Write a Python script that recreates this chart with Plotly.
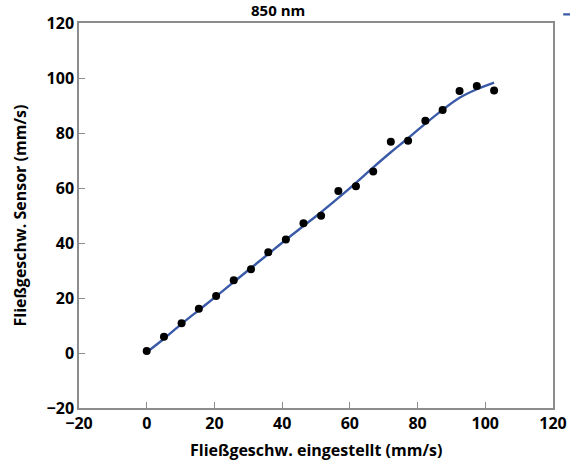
import plotly.graph_objects as go

# measured points (set flow vs. sensor flow, mm/s)
x_set = [0, 5.1, 10.3, 15.4, 20.5, 25.7, 30.8, 35.9, 41.1, 46.3, 51.5,
         56.6, 61.8, 66.9, 72.1, 77.2, 82.3, 87.4, 92.4, 97.5, 102.6]
y_sensor = [0.7, 5.9, 10.8, 16.1, 20.7, 26.5, 30.5, 36.6, 41.3, 47.2, 49.9,
            58.9, 60.6, 66.0, 76.8, 77.2, 84.5, 88.4, 95.3, 97.1, 95.5]
y_err = [0.8] * len(x_set)

# fitted curve (blue)
x_fit = [0, 5.1, 10.3, 15.4, 20.5, 25.7, 30.8, 35.9, 41.1, 46.3, 51.5,
         56.6, 61.8, 66.9, 72.1, 77.2, 82.3, 87.4, 92.4, 97.5, 102.6]
y_fit = [0.3, 5.2, 10.6, 15.6, 20.6, 25.8, 30.9, 36.0, 41.2, 46.2, 51.2,
         56.4, 61.9, 67.5, 73.0, 78.1, 83.4, 88.4, 92.8, 95.9, 98.3]

x_ticks = [-20, 0, 20, 40, 60, 80, 100, 120]
y_ticks = [-20, 0, 20, 40, 60, 80, 100, 120]

FONT = "Open Sans"
AXIS_GREY = "#8c8c8c"

fig = go.Figure()
fig.add_trace(go.Scatter(
    x=x_fit, y=y_fit, mode="lines", name=" ",
    line=dict(color="#3a5aa8", width=2.4, shape="spline"),
    showlegend=True,
))
fig.add_trace(go.Scatter(
    x=x_set, y=y_sensor, mode="markers", showlegend=False,
    marker=dict(color="black", size=8),
    error_y=dict(type="data", array=y_err, color="black", thickness=1.2, width=2),
))

axis_common = dict(
    showgrid=False, zeroline=False,
    showline=True, linecolor=AXIS_GREY, linewidth=1.5, mirror=True,
    ticks="inside", ticklen=6, tickwidth=1.2, tickcolor=AXIS_GREY,
    tickfont=dict(family=FONT, size=16, color="black", weight="bold"),
)

fig.update_layout(
    width=570, height=470,
    margin=dict(l=79, r=17, t=23, b=62, autoexpand=False),
    paper_bgcolor="white", plot_bgcolor="white",
    showlegend=True,
    xaxis=dict(range=[-20, 120], tickvals=x_ticks, **axis_common),
    yaxis=dict(range=[-20, 120], tickvals=y_ticks, **axis_common),
    legend=dict(x=1.011, xanchor="left", y=1.06, yanchor="top",
                bgcolor="rgba(0,0,0,0)", font=dict(size=10)),
    annotations=[
        dict(text="850 nm", xref="paper", yref="paper", x=0.42, y=1.0,
             yanchor="bottom", yshift=1, showarrow=False,
             font=dict(family=FONT, size=15, color="black", weight="bold")),
        dict(text="Fließgeschw. eingestellt (mm/s)", xref="paper", yref="paper",
             x=0.5, y=0, yanchor="middle", yshift=-42, showarrow=False,
             font=dict(family=FONT, size=16, color="black", weight="bold")),
        dict(text="Fließgeschw. Sensor (mm/s)", xref="paper", yref="paper",
             x=0, y=0.5, xanchor="center", xshift=-60, textangle=-90,
             showarrow=False,
             font=dict(family=FONT, size=16, color="black", weight="bold")),
    ],
)

# drop the default 8px page margin so the figure sits at the window corner
fig.write_html("out.html", config={"displayModeBar": False},
               post_script="document.body.style.margin='0';")
